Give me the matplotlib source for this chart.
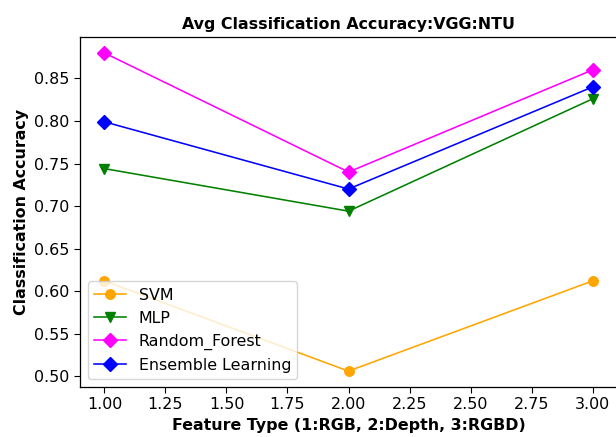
import matplotlib
matplotlib.use("Agg")
import matplotlib.pyplot as plt

features = [1, 2, 3]
svm = [0.612, 0.506, 0.612]
mlp = [0.744, 0.694, 0.826]
rf = [0.880, 0.740, 0.860]
ens = [0.799, 0.720, 0.840]

s = 1.14
plt.rcParams['font.size'] = 10 * s
plt.rcParams['xtick.major.size'] = 3.5 * s
plt.rcParams['ytick.major.size'] = 3.5 * s
plt.rcParams['axes.linewidth'] = 0.8 * s
fig = plt.figure(figsize=(6.16, 4.37), dpi=100)
ax = fig.add_axes([80/616, 50/437, 537/616, 350/437])
kw = dict(linewidth=1.0 * s, markersize=6 * s)
ax.plot(features, svm, marker='o', color='orange', label='SVM', **kw)
ax.plot(features, mlp, marker='v', color='green', label='MLP', **kw)
ax.plot(features, rf, marker='D', color='magenta', label='Random_Forest', **kw)
ax.plot(features, ens, marker='D', color='blue', label='Ensemble Learning', **kw)
ax.set_title('Avg Classification Accuracy:VGG:NTU', fontweight='bold', fontsize=10 * s)
ax.set_xlabel('Feature Type (1:RGB, 2:Depth, 3:RGBD)', fontweight='bold', fontsize=10 * s)
ax.set_ylabel('Classification Accuracy', fontweight='bold', fontsize=10 * s)
ax.tick_params(labelsize=10 * s)
ax.legend(loc='lower left', fontsize=10 * s)
fig.savefig('out.png', dpi=100)
